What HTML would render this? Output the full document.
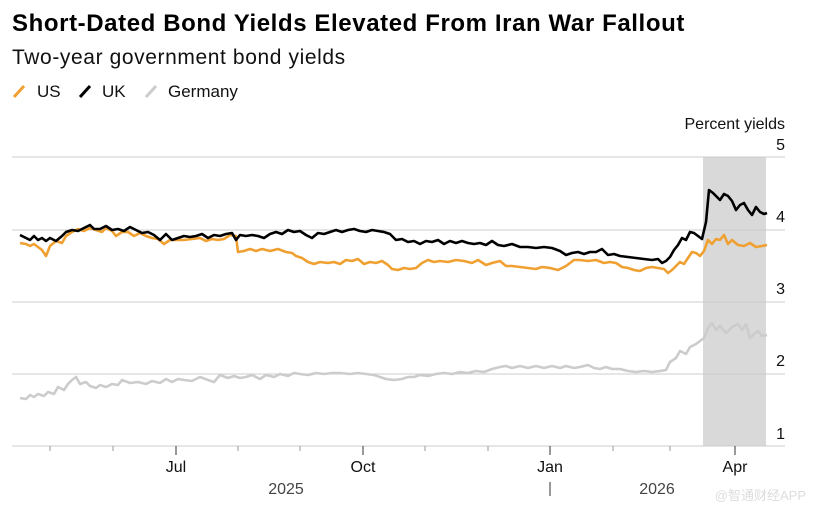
<!DOCTYPE html>
<html><head><meta charset="utf-8"><style>
body{margin:0;background:#fff;width:816px;height:515px;overflow:hidden;font-family:"Liberation Sans",Arial,sans-serif}
</style></head><body>
<svg width="816" height="515" xmlns="http://www.w3.org/2000/svg" font-family="Liberation Sans, Arial, sans-serif">
<text x="12" y="31" font-size="24" font-weight="bold" fill="#000" letter-spacing="0.6">Short-Dated Bond Yields Elevated From Iran War Fallout</text>
<text x="12" y="64" font-size="21" fill="#111" letter-spacing="0.6">Two-year government bond yields</text>
<g font-size="17" fill="#111">
<line x1="14" y1="97" x2="24" y2="86" stroke="#f0a030" stroke-width="3"/><text x="37" y="97">US</text>
<line x1="80" y1="97" x2="90" y2="86" stroke="#000" stroke-width="3"/><text x="102" y="97">UK</text>
<line x1="146" y1="97" x2="156" y2="86" stroke="#ccc" stroke-width="3"/><text x="168" y="97">Germany</text>
</g>
<rect x="703" y="157" width="63" height="289" fill="#d9d9d9"/>
<g stroke="#ccc" stroke-width="1">
<line x1="12" y1="157" x2="785" y2="157"/><line x1="12" y1="230" x2="785" y2="230"/>
<line x1="12" y1="302" x2="785" y2="302"/><line x1="12" y1="374" x2="785" y2="374"/>
<line x1="12" y1="446" x2="785" y2="446"/>
</g>
<g font-size="16" fill="#111" text-anchor="end">
<text x="785" y="129">Percent yields</text>
<text x="785" y="150">5</text><text x="785" y="222">4</text><text x="785" y="294">3</text><text x="785" y="366">2</text><text x="785" y="439">1</text>
</g>
<g stroke="#999" stroke-width="1">
<line x1="50" y1="446" x2="50" y2="451"/><line x1="113" y1="446" x2="113" y2="451"/><line x1="238" y1="446" x2="238" y2="451"/><line x1="300" y1="446" x2="300" y2="451"/><line x1="425" y1="446" x2="425" y2="451"/><line x1="488" y1="446" x2="488" y2="451"/><line x1="613" y1="446" x2="613" y2="451"/><line x1="670" y1="446" x2="670" y2="451"/>
</g>
<g stroke="#333" stroke-width="1">
<line x1="176" y1="446" x2="176" y2="455"/><line x1="363" y1="446" x2="363" y2="455"/><line x1="550" y1="446" x2="550" y2="455"/><line x1="735" y1="446" x2="735" y2="455"/>
<line x1="550" y1="482" x2="550" y2="496"/>
</g>
<g font-size="16" fill="#111" text-anchor="middle">
<text x="176" y="472">Jul</text><text x="363" y="472">Oct</text><text x="550" y="472">Jan</text><text x="735" y="472">Apr</text>
<text x="286" y="494" fill="#444">2025</text><text x="657" y="494" fill="#444">2026</text>
</g>
<text x="806" y="500" font-size="13" fill="#ddd" text-anchor="end" font-family="Liberation Sans, Noto Sans CJK SC, sans-serif">@智通财经APP</text>
<g fill="none" stroke-width="2.6" stroke-linejoin="round">
<polyline stroke="#ccc" points="20,398 26,399 30,395 34,397 38,394 44,396 48,392 54,394 58,387 64,390 68,384 72,380 76,377 80,384 86,382 90,386 96,388 100,385 106,387 112,384 118,385 122,380 130,383 138,382 146,384 152,381 160,383 166,379 172,382 178,379 184,380 192,381 200,377 208,380 214,382 220,375 228,378 234,376 240,378 246,377 252,375 260,379 266,375 274,377 280,374 288,376 294,373 300,374 308,375 316,373 324,374 332,373 340,373 350,374 358,373 366,374 374,375 380,377 386,379 394,380 402,379 408,377 414,377 420,375 428,376 436,374 444,373 452,374 460,372 468,373 476,371 484,372 492,369 500,367 506,366 512,368 520,366 528,368 536,366 544,368 552,366 560,368 566,366 574,368 580,367 588,365 594,368 600,369 606,367 612,369 620,369 628,371 636,372 644,371 652,372 660,371 666,370 670,362 676,358 680,351 686,354 690,347 696,344 700,341 704,338 708,328 712,323 716,330 720,326 726,333 732,327 738,324 742,330 746,324 750,338 754,334 758,331 762,336 767,335"/>
<polyline stroke="#f0a030" points="20,243 26,244 30,246 34,244 38,247 42,250 46,256 50,246 56,241 62,243 66,236 72,232 78,229 84,231 90,228 96,230 102,232 106,228 112,231 116,236 122,232 128,232 134,236 140,233 146,236 152,238 158,239 164,244 170,240 176,240 184,240 192,239 200,238 206,241 212,239 218,240 224,239 230,235 236,236 238,252 244,251 250,249 256,251 262,249 270,251 278,249 286,252 292,253 296,256 302,258 308,262 314,264 320,262 328,263 334,262 340,264 346,260 352,261 358,259 364,264 370,262 376,263 382,261 388,265 392,269 398,270 404,268 410,269 416,268 422,263 428,260 434,262 440,261 448,262 456,260 464,261 472,263 478,260 486,265 492,263 500,261 506,266 512,266 520,267 528,268 536,269 542,267 550,268 558,270 566,266 574,260 580,260 588,261 596,260 604,263 610,262 616,263 622,267 628,268 634,270 640,271 646,268 652,267 658,268 664,269 668,273 672,270 676,266 680,262 684,264 688,258 692,252 696,253 700,256 704,251 708,240 712,244 716,239 720,240 724,235 728,244 732,240 738,245 744,246 750,243 756,247 762,246 767,245"/>
<polyline stroke="#000" points="20,235 26,238 30,240 34,236 38,240 42,238 46,241 50,238 56,241 62,236 66,232 72,230 78,231 84,228 90,225 94,229 100,229 106,226 112,230 118,229 124,231 130,227 136,230 142,233 148,232 154,235 160,240 166,234 172,240 178,238 184,236 190,237 196,236 202,234 208,238 214,235 220,236 226,234 232,233 236,240 240,235 246,236 252,235 258,236 264,238 270,234 276,232 282,234 288,230 294,232 300,231 306,235 312,238 318,233 324,234 330,232 336,230 342,232 348,230 354,229 360,231 366,232 372,230 378,231 384,232 390,234 396,240 402,239 408,242 414,241 420,244 426,241 432,242 438,240 444,244 450,241 456,243 462,241 468,243 474,244 480,243 486,245 492,241 498,245 504,246 512,244 520,247 528,247 536,248 544,247 552,248 560,251 566,255 572,253 578,252 584,254 590,252 596,252 602,249 608,255 614,254 620,256 628,257 636,258 644,259 652,260 658,259 662,263 666,261 670,257 674,250 678,245 682,238 686,240 690,232 694,233 698,236 702,239 706,222 709,190 713,193 716,196 720,200 724,194 728,196 732,201 736,210 740,205 744,203 748,210 752,215 756,207 760,212 764,214 767,213"/>
</g>
</svg>
</body></html>
